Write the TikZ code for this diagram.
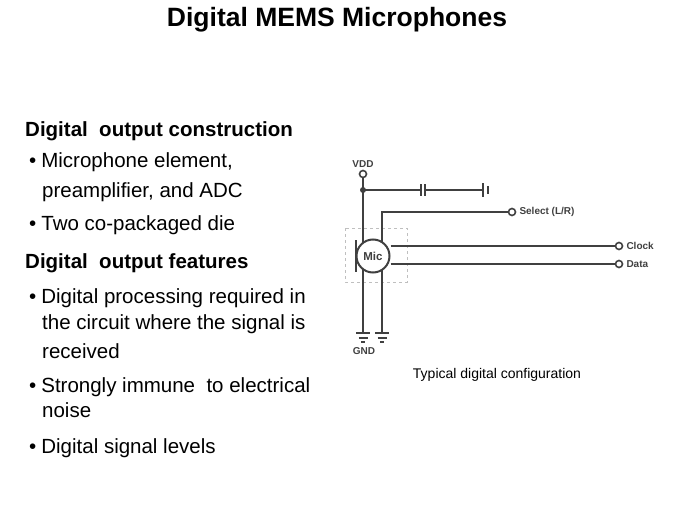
\documentclass[tikz,border=0pt]{standalone}
\usepackage{fontspec}
\setmainfont{Liberation Sans}
\usetikzlibrary{positioning}
\tikzset{
  txt/.style={anchor=base west,inner sep=0pt,font=\fontsize{20.5}{24}\selectfont},
  head/.style={txt,font=\fontsize{20.5}{24}\selectfont\bfseries},
  wire/.style={line width=2pt,draw=black!75},
  term/.style={circle,draw=black!75,line width=1.6pt,fill=white,inner sep=0pt,minimum size=7pt},
  lab/.style={inner sep=1pt,font=\fontsize{10}{12}\selectfont\bfseries,text=black!75},
}
\begin{document}
\begin{tikzpicture}[x=1pt,y=-1pt]
		\useasboundingbox (0,0) rectangle (675,506);
		% title
		\node[font=\fontsize{26.5}{30}\selectfont\bfseries] (title) at (337,20) {Digital MEMS Microphones};
		% left text
		\node[head] (h1) at (25,136) {Digital\ \ output construction};
		\node[txt] (b1) at (29,167) {•\hspace{5pt}Microphone element,};
		\node[txt] (b1b) at (42,197) {preamplifier, and ADC};
		\node[txt] (b2) at (29,230) {•\hspace{5pt}Two co-packaged die};
		\node[head] (h2) at (25,268) {Digital\ \ output features};
		\node[txt] (b3) at (29,303) {•\hspace{5pt}Digital processing required in};
		\node[txt] (b3b) at (42,329) {the circuit where the signal is};
		\node[txt] (b3c) at (42,358) {received};
		\node[txt] (b4) at (29,392) {•\hspace{5pt}Strongly immune\ \ to electrical};
		\node[txt] (b4b) at (42,417) {noise};
		\node[txt] (b5) at (29,453) {•\hspace{5pt}Digital signal levels};
		% circuit
		\coordinate (J) at (363,190);
		\coordinate (S) at (382,212);
		\coordinate (G1) at (363,333);
		\coordinate (G2) at (382,333);
		\draw[gray!50,dashed,line width=1pt] (345,228) rectangle (407,282);
		\node[term] (vdd) at (363,174) {};
		\node[lab,above=1pt of vdd] (vddl) {VDD};
		\draw[wire] (vdd) -- (G1);
		\fill[black!75] (J) circle (3pt);
		\coordinate (C1) at (421,190);
		\coordinate (C2) at (425,190);
		\coordinate (B1) at (483,190);
		\draw[wire] (J) -- (C1) (C2) -- (B1);
		\draw[wire] (C1) ++(0,-6) -- ++(0,12) (C2) ++(0,-6) -- ++(0,12);
		\draw[wire] (B1) ++(0,-7) -- ++(0,14);
		\draw[wire] (B1) ++(5,-4) -- ++(0,8);
		\node[term] (sel) at (512,212) {};
		\node[lab,right=2pt of sel] (sell) {Select (L/R)};
		\draw[wire] (sel) -- (S) -- (G2);
		\node[circle,draw=black!75,line width=2pt,fill=white,minimum size=33pt,inner sep=0pt,font=\fontsize{11.5}{13}\selectfont\bfseries,text=black!75] (mic) at (373,256) {Mic};
		\draw[wire] (356,240) -- (356,272);
		\node[term] (clk) at (619,246) {};
		\node[lab,right=2pt of clk] (clkl) {Clock};
		\node[term] (dat) at (619,264) {};
		\node[lab,right=2pt of dat] (datl) {Data};
		\draw[wire] (mic.east |- clk) -- (clk);
		\draw[wire] (mic.east |- dat) -- (dat);
		\foreach \g in {G1,G2} {
			\draw[wire] (\g) ++(-7,0) -- ++(14,0);
			\draw[wire] (\g) ++(-4.5,4.5) -- ++(9,0);
			\draw[wire] (\g) ++(-2,9) -- ++(4,0);
		}
		\node[lab] (gnd) at (364,351) {GND};
		\node[font=\fontsize{14}{16}\selectfont] (cap) at (497,375) {Typical digital configuration};
	\end{tikzpicture}
\end{document}
